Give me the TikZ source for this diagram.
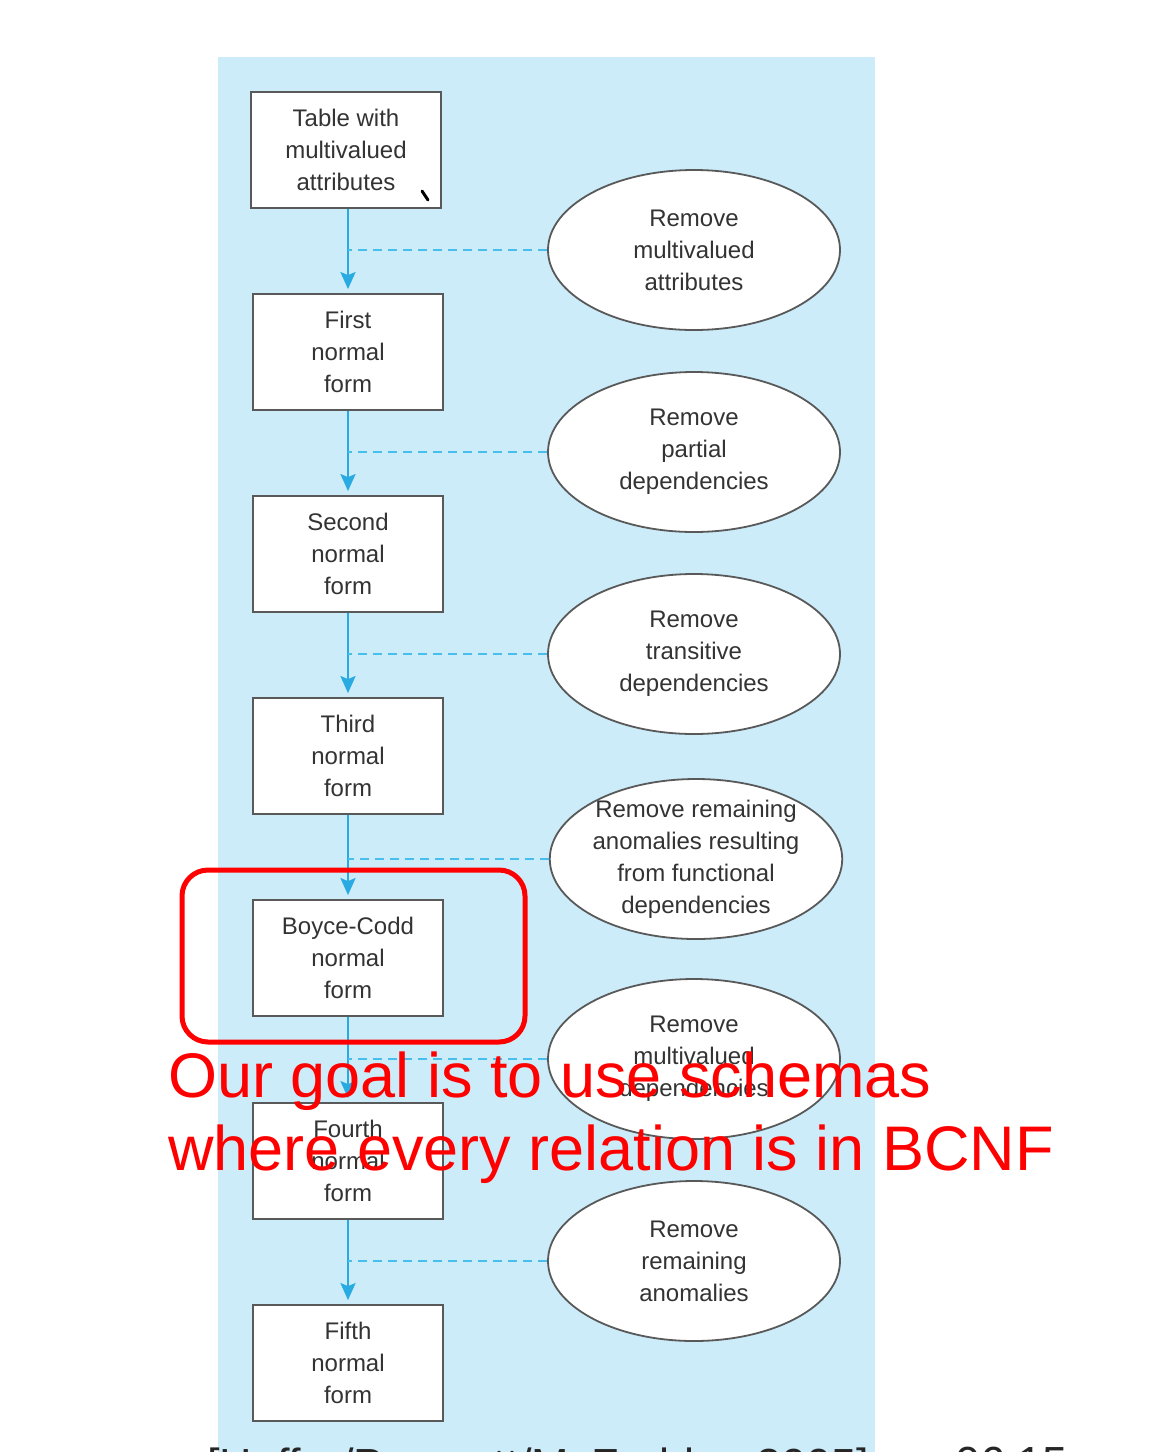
\documentclass[tikz,border=0pt]{standalone}
\usepackage{fontspec}
\setmainfont{Liberation Sans}
\usetikzlibrary{shapes.geometric, arrows.meta, positioning}

\definecolor{panelblue}{RGB}{204,236,250}
\definecolor{flowblue}{RGB}{41,171,226}
\definecolor{linkblue}{RGB}{72,190,236}
\definecolor{inkgray}{RGB}{51,51,51}
\definecolor{goalred}{RGB}{255,0,0}

\begin{document}
\begin{tikzpicture}[
        x=1pt, y=-1pt,
        form/.style={draw=gray!70!black, line width=1.8pt, rectangle, minimum width=190pt, minimum height=116pt, inner sep=0pt, align=center, fill=white, text=inkgray, font=\fontsize{24}{32}\selectfont},
        action/.style={draw=gray!70!black, line width=1.8pt, ellipse, minimum width=292pt, minimum height=160pt, inner sep=0pt, align=center, fill=white, text=inkgray, font=\fontsize{24}{32}\selectfont},
        arrow/.style={-{Stealth[length=17pt, width=15pt, inset=3pt]}, line width=2.4pt, draw=flowblue, shorten >=4pt},
        link/.style={dash pattern=on 9pt off 6pt, line width=2.8pt, draw=linkblue},
        goalframe/.style={draw=goalred, line width=5pt, rounded corners=26pt},
        goal/.style={anchor=base west, inner sep=0pt, text=goalred, font=\fontsize{63}{73}\selectfont},
        cite/.style={anchor=base west, inner sep=0pt, text=black!85, font=\fontsize{45}{54}\selectfont}
    ]
        % --- Page and panel ---
        \fill[white] (0,0) rectangle (1176,1452);
        \useasboundingbox (0,0) rectangle (1176,1452);
        \fill[panelblue] (218,57) rectangle (875,1470);

        % --- Normal forms ---
        \node[form] (table) at (346, 150)  {Table with\\multivalued\\attributes};
        \node[form] (nf1)   at (348, 352)  {First\\normal\\form};
        \node[form] (nf2)   at (348, 554)  {Second\\normal\\form};
        \node[form] (nf3)   at (348, 756)  {Third\\normal\\form};
        \node[form] (bcnf)  at (348, 958)  {Boyce-Codd\\normal\\form};
        \node[form] (nf4)   at (348, 1161) {Fourth\\normal\\form};
        \node[form] (nf5)   at (348, 1363) {Fifth\\normal\\form};
        \draw[line width=3pt, line cap=round] (422,191) -- (428,200);

        % --- Steps ---
        \node[action] (rmva)  at (694, 250)  {Remove\\multivalued\\attributes};
        \node[action] (rmpd)  at (694, 452)  {Remove\\partial\\dependencies};
        \node[action] (rmtd)  at (694, 654)  {Remove\\transitive\\dependencies};
        \node[action, inner ysep=-4pt] (rmfd) at (696, 859) {Remove remaining\\anomalies resulting\\from functional\\dependencies};
        \node[action] (rmmvd) at (694, 1059) {Remove\\multivalued\\dependencies};
        \node[action] (rmra)  at (694, 1261) {Remove\\remaining\\anomalies};

        % --- Flow ---
        \draw[arrow] (table.south -| nf1.north) -- (nf1);
        \draw[arrow] (nf1) -- (nf2);
        \draw[arrow] (nf2) -- (nf3);
        \draw[arrow] (nf3) -- (bcnf);
        \draw[arrow] (bcnf) -- (nf4);
        \draw[arrow] (nf4) -- (nf5);

        \draw[link] (rmva.west)  -- (rmva.west -| nf1.north);
        \draw[link] (rmpd.west)  -- (rmpd.west -| nf1.north);
        \draw[link] (rmtd.west)  -- (rmtd.west -| nf1.north);
        \draw[link] (rmfd.west)  -- (rmfd.west -| nf1.north);
        \draw[link] (rmmvd.west) -- (rmmvd.west -| nf1.north);
        \draw[link] (rmra.west)  -- (rmra.west -| nf1.north);

        % --- Annotation ---
        \draw[goalframe] (182,870) rectangle (525,1042);
        \node[goal] (goalA) at (168, 1097) {Our goal is to use schemas};
        \node[goal] (goalB) at (168, 1170) {where every relation is in BCNF};

        % --- Footer ---
        \node[cite] (source) at (207, 1480) {[Hoffer/Prescott/McFadden 2005]};
        \node[cite] (page)   at (955, 1478) {06.15};
    \end{tikzpicture}
\end{document}
